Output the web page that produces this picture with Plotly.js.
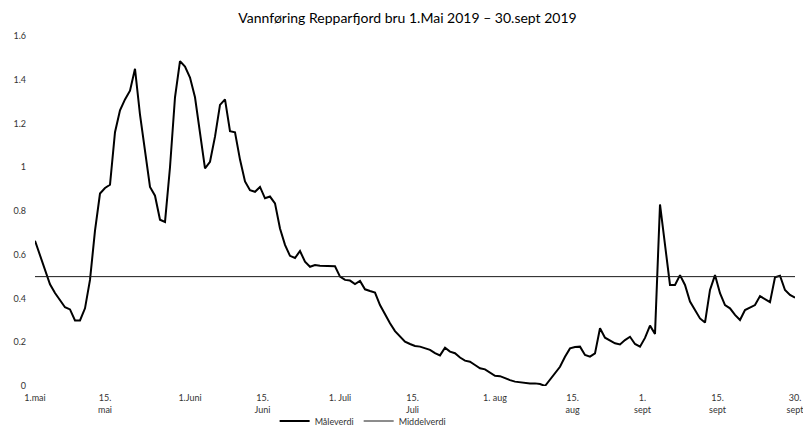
<!DOCTYPE html>
<html>
<head>
<meta charset="utf-8">
<script src="https://cdn.plot.ly/plotly-3.0.1.min.js"></script>
<style>html,body{margin:0;padding:0;background:#fff;}#chart{width:803px;height:427px;}</style>
</head>
<body>
<div id="chart"></div>
<script>
// Daily discharge (Måleverdi), 1 May 2019 .. 30 Sept 2019 (153 days)
const maleverdi = [
  0.664, 0.60, 0.53, 0.465, 0.425, 0.39, 0.36, 0.35, 0.30, 0.30,
  0.355, 0.485, 0.71, 0.88, 0.905, 0.92, 1.16, 1.26, 1.31, 1.35,
  1.45, 1.24, 1.08, 0.91, 0.87, 0.76, 0.75, 1.0, 1.32, 1.485,
  1.46, 1.41, 1.32, 1.155, 0.995, 1.025, 1.14, 1.285, 1.31, 1.165,
  1.16, 1.035, 0.935, 0.895, 0.888, 0.91, 0.858, 0.866, 0.835, 0.72,
  0.645, 0.595, 0.585, 0.617, 0.568, 0.545, 0.553, 0.55, 0.55, 0.55,
  0.547, 0.50, 0.485, 0.482, 0.466, 0.48, 0.442, 0.434, 0.427, 0.37,
  0.325, 0.287, 0.251, 0.225, 0.203, 0.192, 0.183, 0.18, 0.174, 0.165,
  0.15, 0.14, 0.175, 0.157, 0.15, 0.13, 0.116, 0.111, 0.096, 0.081,
  0.076, 0.061, 0.047, 0.045, 0.035, 0.027, 0.02, 0.017, 0.014, 0.012,
  0.012, 0.009, 0.0, 0.03, 0.055, 0.088, 0.134, 0.172, 0.178, 0.18,
  0.142, 0.134, 0.149, 0.264, 0.221, 0.207, 0.195, 0.19, 0.21, 0.225,
  0.192, 0.18, 0.22, 0.276, 0.238, 0.83, 0.637, 0.462, 0.462, 0.507,
  0.462, 0.386, 0.347, 0.309, 0.29, 0.439, 0.507, 0.424, 0.37, 0.355,
  0.325, 0.302, 0.347, 0.358, 0.37, 0.411, 0.396, 0.383, 0.497, 0.504,
  0.439, 0.416, 0.404
];
const middelverdi = 0.5;
const tickPositions = [0, 14, 31, 45.5, 61, 75.5, 92, 107.5, 121.5, 136.5, 152];
const tickLabels = ["1.mai", "15.<br>mai", "1.Juni", "15.<br>Juni", "1. Juli", "15.<br>Juli",
                    "1. aug", "15.<br>aug", "1.<br>sept", "15.<br>sept", "30.<br>sept"];
const yTicks = [0, 0.2, 0.4, 0.6, 0.8, 1, 1.2, 1.4, 1.6];
const yTickLabels = ["0", "0.2", "0.4", "0.6", "0.8", "1", "1.2", "1.4", "1.6"];

const days = maleverdi.map((_, i) => i);
const lastDay = days[days.length - 1];

const font = "Lato, 'Open Sans', sans-serif";
const traces = [
  {x: days, y: maleverdi, type: 'scatter', mode: 'lines', name: 'Måleverdi',
   line: {color: '#000000', width: 2}},
  {x: [0, lastDay], y: [middelverdi, middelverdi], type: 'scatter', mode: 'lines', name: 'Middelverdi',
   line: {color: '#1a1a1a', width: 1}}
];
const layout = {
  width: 803, height: 427,
  margin: {l: 35, r: 8, t: 36, b: 41, autoexpand: false},
  paper_bgcolor: '#fff', plot_bgcolor: '#fff',
  font: {family: font, size: 9, color: '#404040'},
  title: {text: 'Vannføring Repparfjord bru 1.Mai 2019 – 30.sept 2019',
          font: {family: font, size: 14, color: '#000'},
          x: 0.5075, xref: 'container', xanchor: 'center',
          y: 1 - 18/427, yref: 'container', yanchor: 'middle'},
  xaxis: {range: [0, lastDay], tickvals: tickPositions, ticktext: tickLabels,
          showgrid: false, zeroline: false, showline: false, ticks: '',
          automargin: false, ticklabeloverflow: 'allow', ticklabelstandoff: 5,
          tickangle: 0, tickfont: {size: 9, color: '#333333'}},
  yaxis: {range: [0, 1.6], tickvals: yTicks, ticktext: yTickLabels,
          showgrid: false, zeroline: false, showline: false, ticks: '',
          automargin: false, ticklabelstandoff: 8, tickfont: {size: 9, color: '#333333'}},
  showlegend: true,
  legend: {orientation: 'h', xref: 'container', x: 0.342, xanchor: 'left',
           yref: 'container', y: 1 - 421/427, yanchor: 'middle',
           font: {size: 9, color: '#333333'}, itemwidth: 30, tracegroupgap: 0,
           bgcolor: 'rgba(0,0,0,0)'}
};
Plotly.newPlot('chart', traces, layout, {displayModeBar: false, staticPlot: true});
</script>
</body>
</html>
